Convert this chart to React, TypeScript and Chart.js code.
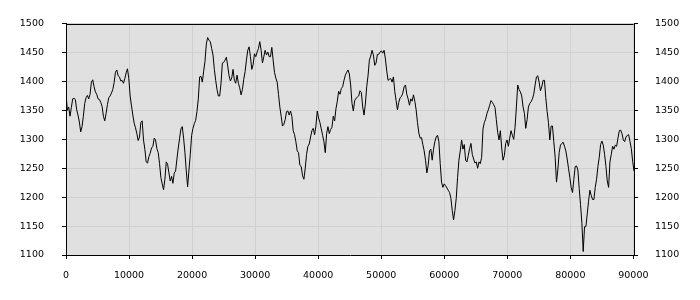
import { useEffect, useRef } from "react";
import { Chart, registerables } from "chart.js";

Chart.register(...registerables);

// spacing of samples along the x axis (data units)
const X_STEP = 212;

// series values (in order along x)
const seriesPart1 = [
  1379, 1350, 1356, 1340, 1355, 1370, 1371, 1369, 1351, 1342,
  1330, 1313, 1322, 1340, 1362, 1372, 1376, 1370, 1378, 1399,
  1403, 1391, 1382, 1378, 1370, 1369, 1364, 1357, 1340, 1332,
  1345, 1360, 1372, 1375, 1380, 1386, 1398, 1416, 1420, 1410,
  1408, 1401, 1402, 1397, 1405, 1415, 1422, 1405, 1375, 1358,
  1342, 1328, 1320, 1310, 1298,
  1304, 1329, 1332, 1299, 1283, 1261, 1259, 1270, 1276, 1285,
  1288, 1302, 1299, 1284, 1277, 1258, 1234, 1223, 1213, 1231,
  1261, 1257, 1242, 1228, 1236, 1224, 1242, 1245, 1266, 1285,
  1302, 1318, 1322, 1302, 1277, 1245, 1218, 1247, 1274, 1307,
  1319, 1327, 1333, 1348, 1370, 1408, 1409, 1399, 1418, 1435,
  1465, 1476, 1471, 1469, 1457, 1446, 1421,
];

const seriesPart2 = [
  1402, 1386, 1375, 1375, 1397, 1432, 1433, 1437, 1442, 1427,
  1410, 1401, 1406, 1421, 1402, 1397, 1411, 1397, 1389, 1377,
  1386, 1404, 1417, 1437, 1454, 1460, 1443, 1421, 1429, 1448,
  1443, 1451, 1457, 1469, 1454, 1432, 1443, 1454, 1446, 1451,
  1443, 1443, 1459, 1437, 1416, 1406, 1399, 1378, 1356, 1340,
  1323, 1326, 1334, 1348, 1349, 1342,
  1349, 1340, 1315, 1308, 1296, 1280, 1277, 1255, 1253, 1237,
  1231, 1250, 1274, 1288, 1292, 1304, 1315, 1319, 1308, 1323,
  1349, 1337, 1329, 1318, 1307, 1296, 1277, 1310, 1322, 1310,
  1317, 1321, 1340, 1332, 1353, 1366, 1383, 1378, 1388, 1391,
  1402, 1411, 1416, 1420, 1413, 1394, 1362, 1349, 1367, 1371,
  1373, 1375, 1384, 1381, 1356, 1342,
];

const seriesPart3 = [
  1361, 1391, 1410, 1437, 1444, 1454, 1446, 1428, 1432, 1447,
  1447, 1451, 1453, 1449, 1454, 1439, 1418, 1402, 1404, 1405,
  1399, 1408, 1383, 1367, 1351, 1364, 1372, 1374, 1380, 1391,
  1394, 1378, 1370, 1359, 1370, 1366, 1377, 1366, 1351, 1329,
  1311, 1302, 1303, 1291, 1280, 1264, 1242, 1255, 1280, 1283,
  1264, 1283, 1296, 1304, 1307, 1296,
  1258, 1226, 1217, 1223, 1220, 1216, 1212, 1208, 1198, 1177,
  1161, 1177, 1198, 1234, 1264, 1280, 1299, 1283, 1291, 1264,
  1261, 1272, 1284, 1293, 1274, 1266, 1259, 1261, 1250, 1261,
  1258, 1269, 1318, 1329, 1335, 1345, 1351, 1359, 1367, 1364,
  1360, 1355, 1334, 1312, 1299, 1315, 1285, 1264, 1272, 1293,
  1299, 1288, 1302, 1315, 1307, 1300,
];

const seriesPart4 = [
  1321, 1356, 1394, 1386, 1382, 1375, 1356, 1345, 1319, 1334,
  1356, 1362, 1365, 1370, 1378, 1394, 1408, 1410, 1399, 1384,
  1391, 1402, 1402, 1372, 1348, 1329, 1299, 1323, 1323, 1296,
  1269, 1226, 1247, 1277, 1290, 1293, 1295, 1288, 1280, 1266,
  1250, 1234, 1217, 1208, 1231, 1253, 1254, 1247, 1215, 1187,
  1155, 1106, 1149, 1149, 1171, 1193, 1212,
  1203, 1196, 1196, 1217, 1231, 1253, 1269, 1291, 1297, 1290,
  1274, 1253, 1228, 1217, 1261, 1274, 1288, 1283, 1290, 1288,
  1302, 1315, 1316, 1310, 1299, 1296, 1304, 1307, 1308, 1296,
  1284, 1262, 1245,
];

// tick labels
const xTickValues = [0, 10000, 20000, 30000, 40000, 50000, 60000, 70000, 80000, 90000];
const yTickValues = [1100, 1150, 1200, 1250, 1300, 1350, 1400, 1450, 1500];

const FONT = { family: "'DejaVu Sans', Verdana, sans-serif", size: 9.5 };

export default function App() {
  const canvasRef = useRef<HTMLCanvasElement>(null);

  useEffect(() => {
    document.body.style.margin = "0";
    const canvas = canvasRef.current;
    if (!canvas) return;

    const values = [...seriesPart1, ...seriesPart2, ...seriesPart3, ...seriesPart4];
    const points = values.map((v, i) => ({ x: i * X_STEP, y: v }));

    const framePlugin = {
      id: "frame",
      beforeDraw(chart: any) {
        const { ctx, chartArea: a } = chart;
        ctx.save();
        ctx.fillStyle = "#e0e0e0";
        ctx.fillRect(a.left, a.top, a.right - a.left, a.bottom - a.top);
        ctx.restore();
      },
      afterDraw(chart: any) {
        const { ctx, chartArea: a } = chart;
        ctx.save();
        ctx.strokeStyle = "#000";
        ctx.lineWidth = 1;
        ctx.beginPath();
        ctx.moveTo(Math.round(a.left) + 0.5, Math.round(a.top) + 0.5);
        ctx.lineTo(Math.round(a.right) - 0.5, Math.round(a.top) + 0.5);
        ctx.stroke();
        ctx.restore();
      },
    };

    const yTicksCommon = (padding: number) => ({
      font: FONT,
      color: "#000",
      padding,
      callback: (v: any) => String(v),
    });

    const chart = new Chart(canvas, {
      type: "line",
      data: {
        datasets: [
          {
            data: points,
            borderColor: "#000",
            borderWidth: 1,
            pointRadius: 0,
            tension: 0,
            fill: false,
            yAxisID: "y",
          },
        ],
      },
      options: {
        animation: false,
        responsive: false,
        events: [],
        layout: { padding: { top: 10, left: 0, right: 0, bottom: 0 } },
        plugins: { legend: { display: false }, tooltip: { enabled: false } },
        scales: {
          x: {
            type: "linear",
            min: 0,
            max: (values.length - 1) * X_STEP,
            afterBuildTicks: (s: any) => {
              s.ticks = xTickValues.map((v) => ({ value: v }));
            },
            afterFit: (s: any) => {
              s.height = 45;
            },
            ticks: {
              font: FONT,
              color: "#000",
              padding: 11,
              autoSkip: false,
              maxRotation: 0,
              includeBounds: false,
              callback: (v: any) => String(v),
            },
            grid: { color: "#d0d0d0", tickColor: "#000", tickLength: 4 },
            border: { color: "#000" },
          },
          y: {
            position: "left",
            min: 1100,
            max: 1500,
            afterBuildTicks: (s: any) => {
              s.ticks = yTickValues.map((v) => ({ value: v }));
            },
            afterFit: (s: any) => {
              s.width = 66;
            },
            ticks: yTicksCommon(18),
            grid: { color: "#d0d0d0", tickColor: "#000", tickLength: 4 },
            border: { color: "#000" },
          },
          y2: {
            position: "right",
            min: 1100,
            max: 1500,
            afterBuildTicks: (s: any) => {
              s.ticks = yTickValues.map((v) => ({ value: v }));
            },
            afterFit: (s: any) => {
              s.width = 66;
            },
            ticks: yTicksCommon(17),
            grid: { drawOnChartArea: false, tickColor: "#000", tickLength: 4 },
            border: { color: "#000" },
          },
        },
      },
      plugins: [framePlugin],
    } as any);

    return () => chart.destroy();
  }, []);

  return (
    <div style={{ position: "absolute", left: 0, top: 0, width: 700, height: 300 }}>
      <canvas ref={canvasRef} width={700} height={300} />
    </div>
  );
}
